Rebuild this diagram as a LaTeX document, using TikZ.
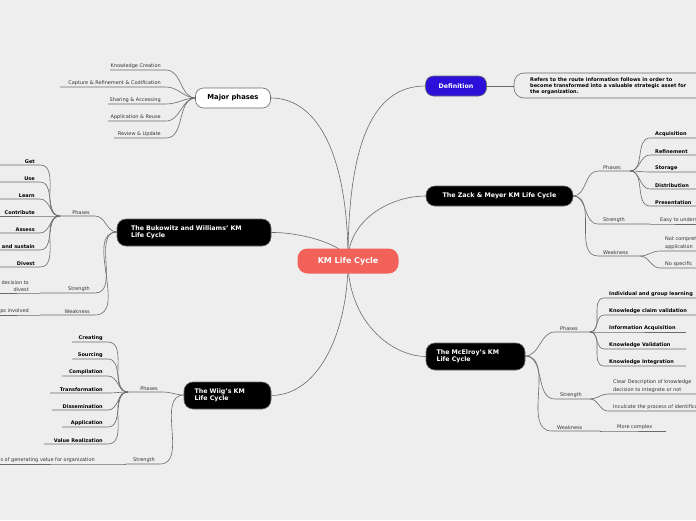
\documentclass[tikz,border=0pt]{standalone}
\usepackage{fontspec}
\setmainfont{DejaVu Sans}
\usetikzlibrary{backgrounds}
\definecolor{bg}{HTML}{EEEEEE}
\definecolor{salmon}{HTML}{F2625A}
\definecolor{defblue}{HTML}{2C0FD8}
\definecolor{ln}{HTML}{6A6A6A}
\tikzset{
  conn/.style={draw=ln,line width=0.6pt},
  mainbox/.style={fill=black,draw=ln,line width=0.6pt,rounded corners=9pt,text=white,font=\fontsize{6.3}{7.5}\selectfont\bfseries,align=left,inner xsep=0pt},
  lbl/.style={font=\fontsize{5}{6}\selectfont,text=black!80,inner sep=1pt},
  bleaf/.style={font=\fontsize{5}{6}\selectfont\bfseries,inner sep=1pt},
}
% right branch: name, x0,y0 (start), x1,y1 (end of curve), x2 (end of line), text, style
\newcommand\RB[8]{\node[#8,anchor=south west] (#1) at (#4+4,#5) {#7};
  \begin{scope}[on background layer]\draw[conn] (#2,#3) to[out=0,in=180] (#4,#5) -- (#6,#5);\end{scope}}
\newcommand\LB[8]{\node[#8,anchor=south east] (#1) at (#4-4,#5) {#7};
  \begin{scope}[on background layer]\draw[conn] (#2,#3) to[out=180,in=0] (#4,#5) -- (#6,#5);\end{scope}}
\begin{document}
\begin{tikzpicture}[x=1pt,y=-1pt]
\begin{scope}[on background layer]
\fill[bg] (0,0) rectangle (696,520);
\end{scope}
\useasboundingbox (0,0) rectangle (696,520);
\clip (0,0) rectangle (696,520);
% central
\node[fill=salmon,rounded corners=10pt,minimum width=101pt,minimum height=25pt,text=white,font=\fontsize{8}{9}\selectfont\bfseries] (km) at (348,261) {KM Life Cycle};
\node[fill=defblue,draw=ln,line width=0.6pt,rounded corners=8pt,minimum width=61pt,minimum height=20pt,text=white,font=\fontsize{6.3}{7}\selectfont\bfseries] (def) at (456,86) {Definition};
\node[fill=white,draw=ln,line width=0.6pt,rounded corners=8pt,minimum width=75pt,minimum height=20pt,font=\fontsize{6.8}{8}\selectfont\bfseries] (maj) at (233,98) {Major phases};
\node[mainbox,minimum width=147pt,minimum height=20pt] (zack) at (499.5,196) {The Zack \& Meyer KM Life Cycle};
\node[mainbox,minimum width=154pt,minimum height=27pt,text width=126pt] (buk) at (194,232.5) {The Bukowitz and Williams' KM\\Life Cycle};
\node[mainbox,minimum width=99pt,minimum height=27pt,text width=78pt] (mce) at (475.5,356.5) {The McElroy's KM\\Life Cycle};
\node[mainbox,minimum width=87pt,minimum height=27pt,text width=66pt] (wiig) at (227.5,395.5) {The Wiig's KM\\Life Cycle};
\begin{scope}[on background layer]
\draw[conn] (km.center) .. controls (348,150) and (370,86) .. (def.west);
\draw[conn] (km.center) .. controls (348,220) and (390,196) .. (zack.west);
\draw[conn] (km.center) .. controls (348,320) and (390,356) .. (mce.west);
\draw[conn] (km.center) .. controls (348,160) and (320,98) .. (maj.east);
\draw[conn] (km.center) .. controls (348,245) and (300,232) .. (buk.east);
\draw[conn] (km.center) .. controls (348,330) and (320,395) .. (wiig.east);
% definition text box
\draw[conn,fill=bg,rounded corners=10pt] (720,73) -- (514,73) -- (514,98) -- (720,98);
\draw[conn] (def.east) -- (514,86);
\end{scope}
\node[font=\fontsize{5}{6}\selectfont\bfseries,align=left,anchor=west,inner sep=0pt] (deftext) at (530,86) {Refers to the route information follows in order to\\become transformed into a valuable strategic asset for\\the organization.};
% Major phases
\LB{m1}{196}{98}{166}{70}{110}{Knowledge Creation}{lbl}
\LB{m2}{196}{98}{166}{87}{60}{Capture \& Refinement \& Codification}{lbl}
\LB{m3}{196}{98}{166}{104}{108}{Sharing \& Accessing}{lbl}
\LB{m4}{196}{98}{166}{121}{108}{Application \& Reuse}{lbl}
\LB{m5}{196}{98}{166}{138}{114}{Review \& Update}{lbl}
% Zack
\RB{zp}{573}{196}{598}{171}{630}{Phases}{lbl}
\RB{z1}{630}{171}{650}{138}{696}{Acquisition}{bleaf}
\RB{z2}{630}{171}{650}{155}{696}{Refinement}{bleaf}
\RB{z3}{630}{171}{650}{172}{696}{Storage}{bleaf}
\RB{z4}{630}{171}{650}{189}{696}{Distribution}{bleaf}
\RB{z5}{630}{171}{650}{206}{696}{Presentation}{bleaf}
\RB{zs}{573}{196}{598}{224}{650}{Strength}{lbl}
\RB{zs1}{650}{224}{655}{224}{696}{Easy to understand}{lbl}
\RB{zw}{573}{196}{598}{256}{640}{Weakness}{lbl}
\RB{zw1}{640}{256}{660}{251}{696}{\shortstack[l]{Not comprehensive\\application}}{lbl}
\RB{zw2}{640}{256}{660}{268}{696}{No specific}{lbl}
% McElroy
\RB{mp}{525}{356}{555}{332}{590}{Phases}{lbl}
\RB{c1}{590}{332}{604}{298}{696}{Individual and group learning}{bleaf}
\RB{c2}{590}{332}{604}{315}{696}{Knowledge claim validation}{bleaf}
\RB{c3}{590}{332}{604}{332}{686}{Information Acquisition}{bleaf}
\RB{c4}{590}{332}{604}{349}{686}{Knowledge Validation}{bleaf}
\RB{c5}{590}{332}{604}{366}{686}{Knowledge Integration}{bleaf}
\RB{ms}{525}{356}{555}{399}{590}{Strength}{lbl}
\RB{ms1}{590}{399}{608}{394}{696}{\shortstack[l]{Clear Description of knowledge\\decision to integrate or not}}{lbl}
\RB{ms2}{590}{399}{608}{411}{696}{Inculcate the process of identification}{lbl}
\RB{mw}{525}{356}{552}{431}{600}{Weakness}{lbl}
\RB{mw1}{600}{431}{612}{431}{666}{More complex}{lbl}
% Bukowitz
\LB{bp}{117}{232}{95}{216}{60}{Phases}{lbl}
\LB{b1}{60}{216}{40}{165}{0}{Get}{bleaf}
\LB{b2}{60}{216}{40}{182}{0}{Use}{bleaf}
\LB{b3}{60}{216}{40}{199}{0}{Learn}{bleaf}
\LB{b4}{60}{216}{40}{216}{0}{Contribute}{bleaf}
\LB{b5}{60}{216}{40}{233}{0}{Assess}{bleaf}
\LB{b6}{60}{216}{40}{250}{0}{Build and sustain}{bleaf}
\LB{b7}{60}{216}{40}{267}{0}{Divest}{bleaf}
\LB{bs}{117}{232}{95}{293}{40}{Strength}{lbl}
\LB{bs1}{40}{293}{34}{293}{0}{\shortstack[r]{Clear decision to\\divest}}{lbl}
\LB{bw}{117}{232}{95}{315}{40}{Weakness}{lbl}
\LB{bw1}{40}{315}{34}{315}{0}{Many steps involved}{lbl}
% Wiig
\LB{wp}{184}{395}{163}{392}{128}{Phases}{lbl}
\LB{w1}{128}{392}{108}{342}{72}{Creating}{bleaf}
\LB{w2}{128}{392}{108}{359}{72}{Sourcing}{bleaf}
\LB{w3}{128}{392}{108}{376}{62}{Compilation}{bleaf}
\LB{w4}{128}{392}{108}{393}{50}{Transformation}{bleaf}
\LB{w5}{128}{392}{108}{410}{52}{Dissemination}{bleaf}
\LB{w6}{128}{392}{108}{427}{62}{Application}{bleaf}
\LB{w7}{128}{392}{108}{444}{44}{Value Realization}{bleaf}
\LB{ws}{184}{395}{160}{464}{126}{Strength}{lbl}
\LB{ws1}{126}{464}{100}{464}{0}{Process of generating value for organization}{lbl}
\end{tikzpicture}
\end{document}
